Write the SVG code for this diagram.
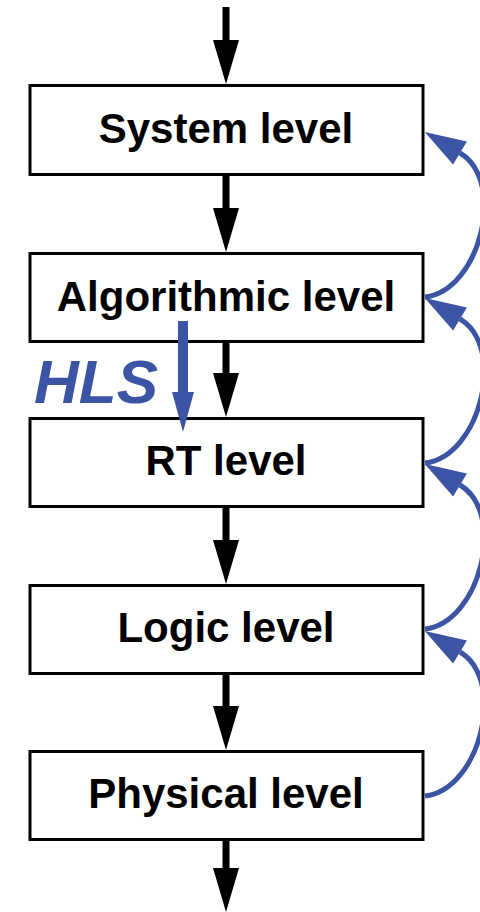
<svg xmlns="http://www.w3.org/2000/svg" width="480" height="912" viewBox="0 0 480 912">
<style>
.box{fill:#fff;stroke:#000;stroke-width:3}
.lbl{font-family:"Liberation Sans",Arial,sans-serif;font-weight:bold;font-size:42px;fill:#000;text-anchor:middle}
.blk{stroke:#000;stroke-width:7;fill:none}
.fb{stroke:#3b54a4;stroke-width:5;fill:none}
.hls{stroke:#3b54a4;stroke-width:10;fill:none}
</style>
<defs>
<marker id="ah" markerUnits="userSpaceOnUse" orient="auto" markerWidth="46" markerHeight="28" viewBox="0 -14 46 28" refX="0" refY="0" overflow="visible">
<path d="M0,-13 L44,0 L0,13 z" fill="#000"/>
</marker>
<marker id="bh" markerUnits="userSpaceOnUse" orient="auto" markerWidth="44" markerHeight="30" viewBox="0 -15 44 30" refX="0" refY="0" overflow="visible">
<path d="M0,-13.5 L41,0 L0,13.5 z" fill="#3b54a4"/>
</marker>
<marker id="hh" markerUnits="userSpaceOnUse" orient="auto" markerWidth="42" markerHeight="26" viewBox="0 -13 42 26" refX="0" refY="0" overflow="visible">
<path d="M0,-11 L40,0 L0,11 z" fill="#3b54a4"/>
</marker>
</defs>
<g id="n-system"><rect class="box" x="30" y="85.5" width="393" height="89"/><text class="lbl" x="226" y="143">System level</text></g>
<g id="n-algorithmic"><rect class="box" x="30" y="253.5" width="393" height="88"/><text class="lbl" x="226" y="311">Algorithmic level</text></g>
<g id="n-rt"><rect class="box" x="30" y="418.5" width="393" height="88"/><text class="lbl" x="226" y="475">RT level</text></g>
<g id="n-logic"><rect class="box" x="30" y="585.5" width="393" height="88"/><text class="lbl" x="226" y="642">Logic level</text></g>
<g id="n-physical"><rect class="box" x="30" y="751.5" width="393" height="88"/><text class="lbl" x="226" y="808">Physical level</text></g>
<g id="connectors">
<line class="blk" x1="226" y1="7" x2="226" y2="40" marker-end="url(#ah)"/>
<line class="blk" x1="226" y1="176" x2="226" y2="208" marker-end="url(#ah)"/>
<line class="blk" x1="226" y1="343" x2="226" y2="373" marker-end="url(#ah)"/>
<line class="blk" x1="226" y1="508" x2="226" y2="540" marker-end="url(#ah)"/>
<line class="blk" x1="226" y1="675" x2="226" y2="706" marker-end="url(#ah)"/>
<line class="blk" x1="226" y1="841" x2="226" y2="868" marker-end="url(#ah)"/>
<path class="fb" d="M425,297 C480,291 507,181 460,153" marker-end="url(#bh)"/>
<path class="fb" d="M425,463 C480,457 507,347 460,319" marker-end="url(#bh)"/>
<path class="fb" d="M425,629 C480,623 507,513 460,485" marker-end="url(#bh)"/>
<path class="fb" d="M425,796 C480,790 507,680 460,652" marker-end="url(#bh)"/>
<line class="hls" x1="183" y1="321" x2="183" y2="392" marker-end="url(#hh)"/>
</g>
<text x="34" y="403" font-family="Liberation Sans, Arial, sans-serif" font-weight="bold" font-style="italic" font-size="62" fill="#3b54a4">HLS</text>
</svg>
